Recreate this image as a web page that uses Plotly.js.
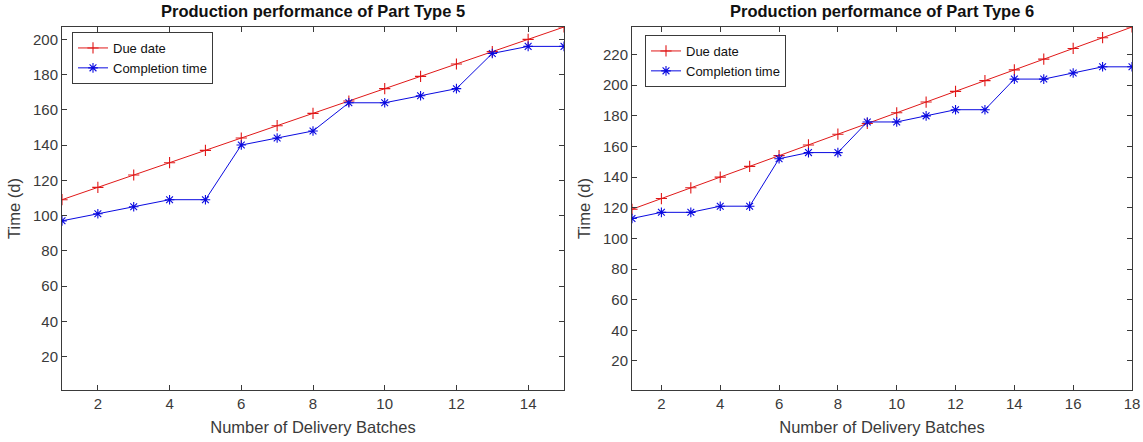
<!DOCTYPE html>
<html>
<head>
<meta charset="utf-8">
<script src="https://cdn.plot.ly/plotly-3.0.1.min.js"></script>
<style>html,body{margin:0;padding:0;background:#fff;}#chart{width:1143px;height:442px;}</style>
</head>
<body>
<div id="chart"></div>
<script>
// Part Type 5
const batches5 = [1,2,3,4,5,6,7,8,9,10,11,12,13,14,15];
const due5 = [109,116,123,130,137,144,151,158,165,172,179,186,193,200,207];
const comp5 = [97,101,105,109,109,140,144,148,164,164,168,172,192,196,196];
// Part Type 6
const batches6 = [1,2,3,4,5,6,7,8,9,10,11,12,13,14,15,16,17,18];
const due6 = [119,126,133,140,147,154,161,168,175,182,189,196,203,210,217,224,231,238];
const comp6 = [113,117,117,121,121,152,156,156,176,176,180,184,184,204,204,208,212,212];

const titles = ["Production performance of Part Type 5", "Production performance of Part Type 6"];
const seriesNames = ["Due date", "Completion time"];
const xTicks5 = [2,4,6,8,10,12,14];
const xTicks6 = [2,4,6,8,10,12,14,16,18];
const yTicks5 = [20,40,60,80,100,120,140,160,180,200];
const yTicks6 = [20,40,60,80,100,120,140,160,180,200,220];

const RED = '#e01818', BLUE = '#0a0ae0', AX = '#3a3a3a';
const font = 'Liberation Sans, Arial, Helvetica, sans-serif';

function tr(x, y, name, color, sym, xa, ya) {
  return {x: x, y: y, name: name, type: 'scatter', mode: 'lines+markers',
    xaxis: xa, yaxis: ya, showlegend: true, legend: xa === 'x' ? 'legend' : 'legend2',
    line: {color: color, width: 1},
    marker: {symbol: sym, size: 8, color: color, line: {color: color, width: 1.1}}};
}

const data = [
  tr(batches5, due5, seriesNames[0], RED, 'cross-thin-open', 'x', 'y'),
  tr(batches5, comp5, seriesNames[1], BLUE, 'asterisk-open', 'x', 'y'),
  tr(batches6, due6, seriesNames[0], RED, 'cross-thin-open', 'x2', 'y2'),
  tr(batches6, comp6, seriesNames[1], BLUE, 'asterisk-open', 'x2', 'y2')
];

const W = 1143, H = 442;
const yDom = [(H - 390) / H, (H - 27) / H];
function xax(dom, n, ticks, anchor) {
  return {domain: dom, range: [1, n], tickvals: ticks, ticktext: ticks.map(String),
    ticks: 'inside', ticklen: 5, tickcolor: AX, tickwidth: 1,
    showline: true, linecolor: AX, linewidth: 1, mirror: 'ticks', showgrid: false, zeroline: false,
    tickfont: {family: font, size: 15, color: AX}, anchor: anchor,
    title: {text: 'Number of Delivery Batches', font: {family: font, size: 16.5, color: AX}, standoff: 10}};
}
function yax(range, ticks, anchor) {
  return {domain: yDom, range: range, tickvals: ticks, ticktext: ticks.map(String),
    ticks: 'inside', ticklen: 5, tickcolor: AX, tickwidth: 1,
    showline: true, linecolor: AX, linewidth: 1, mirror: 'ticks', showgrid: false, zeroline: false,
    tickfont: {family: font, size: 15, color: AX}, anchor: anchor,
    title: {text: 'Time (d)', font: {family: font, size: 16.5, color: AX}, standoff: 8}};
}

const legendStyle = (x, y) => ({x: x, y: y, xanchor: 'left', yanchor: 'top',
  bgcolor: '#ffffff', bordercolor: AX, borderwidth: 1,
  font: {family: font, size: 13, color: '#111'}, tracegroupgap: 0, itemwidth: 30});

const layout = {
  width: W, height: H, margin: {l: 0, r: 0, t: 0, b: 0},
  paper_bgcolor: '#fff', plot_bgcolor: '#fff', showlegend: true,
  xaxis: xax([62 / W, 564 / W], 15, xTicks5, 'y'),
  yaxis: yax([1, 207], yTicks5, 'x'),
  xaxis2: xax([632 / W, 1132 / W], 18, xTicks6, 'y2'),
  yaxis2: yax([1, 238], yTicks6, 'x2'),
  legend: legendStyle(72 / W, (H - 32) / H),
  legend2: legendStyle(645 / W, (H - 35) / H),
  annotations: [
    {text: '<b>' + titles[0] + '</b>', xref: 'paper', yref: 'paper', x: (62 + 564) / 2 / W, y: (H - 11) / H,
     xanchor: 'center', yanchor: 'middle', showarrow: false, font: {family: font, size: 16.5, color: '#111'}},
    {text: '<b>' + titles[1] + '</b>', xref: 'paper', yref: 'paper', x: (632 + 1132) / 2 / W, y: (H - 11) / H,
     xanchor: 'center', yanchor: 'middle', showarrow: false, font: {family: font, size: 16.5, color: '#111'}}
  ]
};

Plotly.newPlot('chart', data, layout, {displayModeBar: false, staticPlot: true});
</script>
</body>
</html>
